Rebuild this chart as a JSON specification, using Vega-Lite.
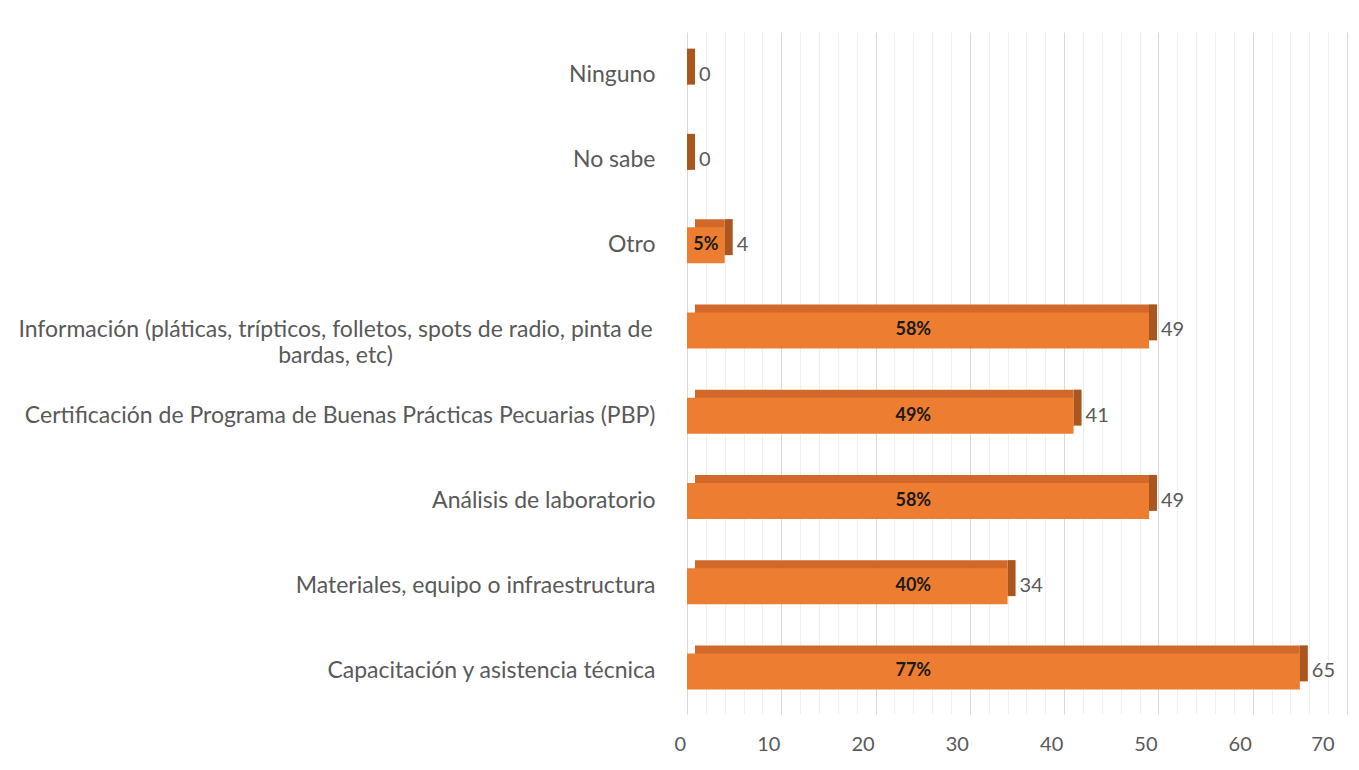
{
  "$schema": "https://vega.github.io/schema/vega-lite/v6.json",
  "autosize": "none",
  "width": 660,
  "height": 682,
  "padding": {"left": 687, "top": 32, "right": 12, "bottom": 56},
  "background": "white",
  "config": {"view": {"stroke": null}, "font": "Lato"},
  "data": {"values": [
    {"cat": "Ninguno", "n": 0, "pct": null},
    {"cat": "No sabe", "n": 0, "pct": null},
    {"cat": "Otro", "n": 4, "pct": 0.05},
    {"cat": "Información (pláticas, trípticos, folletos, spots de radio, pinta de bardas, etc)", "n": 49, "pct": 0.58},
    {"cat": "Certificación de Programa de Buenas Prácticas Pecuarias (PBP)", "n": 41, "pct": 0.49},
    {"cat": "Análisis de laboratorio", "n": 49, "pct": 0.58},
    {"cat": "Materiales, equipo o infraestructura", "n": 34, "pct": 0.40},
    {"cat": "Capacitación y asistencia técnica", "n": 65, "pct": 0.77}
  ]},
  "resolve": {"axis": {"x": "independent"}},
  "encoding": {
    "y": {
      "field": "cat", "type": "nominal", "sort": null, "title": null,
      "axis": {
        "domain": false, "ticks": false, "grid": false,
        "labelFontSize": 23, "labelColor": "#595959", "labelLimit": 800,
        "labelExpr": "datum.value == 'Información (pláticas, trípticos, folletos, spots de radio, pinta de bardas, etc)' ? ['Información (pláticas, trípticos, folletos, spots de radio, pinta de', 'bardas, etc)'] : datum.value",
        "labelAlign": {"condition": {"test": "indexof(datum.value, 'Información') == 0", "value": "center"}, "value": "right"},
        "labelPadding": {"condition": {"test": "indexof(datum.value, 'Información') == 0", "value": 352}, "value": 32},
        "labelLineHeight": 26
      }
    }
  },
  "layer": [
    {
      "mark": {"type": "bar", "opacity": 0},
      "encoding": {
        "x": {
          "field": "n", "type": "quantitative", "scale": {"domain": [0, 70]}, "title": null,
          "axis": {"orient": "bottom", "values": [2,4,6,8,12,14,16,18,22,24,26,28,32,34,36,38,42,44,46,48,52,54,56,58,62,64,66,68],
                   "labels": false, "ticks": false, "domain": false, "grid": true, "gridColor": "#F0F0F0", "gridWidth": 1}
        }
      }
    },
    {
      "mark": {"type": "bar", "color": "#A9561F", "size": 36, "xOffset": 8, "x2Offset": 0, "yOffset": -8},
      "encoding": {
        "x": {"field": "n", "type": "quantitative", "title": null,
              "axis": {"orient": "bottom", "values": [0,10,20,30,40,50,60,70], "ticks": false, "domain": false, "grid": true,
                       "gridColor": "#D9D9D9", "labelFontSize": 20, "labelColor": "#595959",
                       "labelPadding": 20, "labelOffset": -13}},
        "x2": {"field": "n"}
      }
    },
    {
      "transform": [{"filter": "datum.n > 0"}],
      "mark": {"type": "bar", "color": "#D2692B", "size": 36, "yOffset": -8, "x2Offset": 8},
      "encoding": {
        "x": {"field": "n", "type": "quantitative", "axis": null},
        "x2": {"datum": 0}
      }
    },
    {
      "mark": {"type": "bar", "color": "#ED7D31", "size": 36},
      "encoding": {"x": {"field": "n", "type": "quantitative", "axis": null}}
    },
    {
      "mark": {"type": "text", "align": "left", "dx": 12, "fontSize": 20, "color": "#595959"},
      "encoding": {
        "x": {"field": "n", "type": "quantitative", "axis": null},
        "text": {"field": "n", "type": "quantitative"}
      }
    },
    {
      "transform": [{"filter": "datum.n >= 10"}],
      "mark": {"type": "text", "fontSize": 18, "fontWeight": "bold", "color": "#1a1a1a"},
      "encoding": {
        "x": {"datum": 24, "type": "quantitative", "axis": null},
        "text": {"field": "pct", "type": "quantitative", "format": ".0%"}
      }
    },
    {
      "transform": [{"filter": "datum.n > 0 && datum.n < 10"}],
      "mark": {"type": "text", "fontSize": 18, "fontWeight": "bold", "color": "#1a1a1a"},
      "encoding": {
        "x": {"datum": 2, "type": "quantitative", "axis": null},
        "text": {"field": "pct", "type": "quantitative", "format": ".0%"}
      }
    }
  ]
}
